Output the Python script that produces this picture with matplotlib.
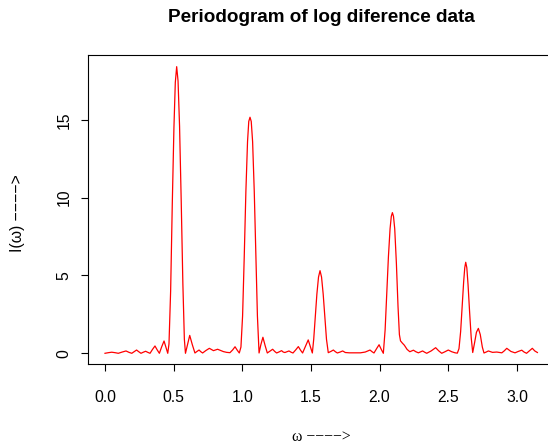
import matplotlib
matplotlib.use("Agg")
import matplotlib.pyplot as plt

omega = [
    0.000, 0.025, 0.049, 0.073, 0.097, 0.125, 0.153, 0.175, 0.195, 0.213,
    0.230, 0.246, 0.262, 0.279, 0.296, 0.312, 0.328, 0.346, 0.364, 0.380,
    0.396, 0.413, 0.430, 0.444, 0.457, 0.466, 0.478, 0.490, 0.502, 0.512,
    0.522, 0.532, 0.543, 0.555, 0.567, 0.578, 0.586, 0.602, 0.617, 0.636,
    0.655, 0.670, 0.685, 0.698, 0.711, 0.735, 0.760, 0.790, 0.820, 0.842,
    0.862, 0.886, 0.910, 0.930, 0.947, 0.963, 0.978, 0.990, 1.002, 1.014,
    1.026, 1.038, 1.047, 1.056, 1.065, 1.075, 1.087, 1.099, 1.110, 1.122,
    1.135, 1.150, 1.166, 1.182, 1.201, 1.221, 1.236, 1.250, 1.268, 1.286,
    1.298, 1.310, 1.325, 1.340, 1.355, 1.369, 1.389, 1.408, 1.424, 1.439,
    1.460, 1.480, 1.496, 1.510, 1.520, 1.531, 1.543, 1.555, 1.566, 1.577,
    1.589, 1.601, 1.613, 1.626, 1.645, 1.663, 1.678, 1.692, 1.712, 1.731,
    1.750, 1.780, 1.820, 1.860, 1.895, 1.930, 1.945, 1.959, 1.978, 1.996,
    2.012, 2.027, 2.040, 2.052, 2.064, 2.076, 2.085, 2.093, 2.101, 2.110,
    2.122, 2.134, 2.144, 2.152, 2.165, 2.180, 2.200, 2.220, 2.246, 2.264,
    2.282, 2.298, 2.313, 2.328, 2.343, 2.375, 2.408, 2.430, 2.452, 2.476,
    2.500, 2.525, 2.550, 2.566, 2.578, 2.590, 2.601, 2.612, 2.620, 2.627,
    2.635, 2.644, 2.655, 2.667, 2.678, 2.692, 2.705, 2.719, 2.733, 2.748,
    2.760, 2.776, 2.792, 2.822, 2.853, 2.890, 2.908, 2.926, 2.956, 2.986,
    3.010, 3.035, 3.052, 3.070, 3.091, 3.112, 3.130, 3.149,
]
intensity = [
    0.00, 0.04, 0.07, 0.04, 0.00, 0.08, 0.15, 0.06, 0.00, 0.11,
    0.21, 0.10, 0.00, 0.07, 0.13, 0.06, 0.00, 0.25, 0.47, 0.22,
    0.00, 0.42, 0.79, 0.38, 0.00, 0.60, 4.0, 9.6, 14.5, 17.4,
    18.42, 17.5, 14.6, 9.8, 4.5, 0.9, 0.00, 0.60, 1.15, 0.55,
    0.02, 0.12, 0.21, 0.10, 0.02, 0.18, 0.32, 0.17, 0.26, 0.18,
    0.11, 0.06, 0.04, 0.22, 0.42, 0.20, 0.02, 0.40, 2.4, 6.2,
    10.4, 13.6, 14.9, 15.17, 14.9, 13.6, 10.4, 6.2, 2.4, 0.02,
    0.55, 1.03, 0.50, 0.02, 0.14, 0.26, 0.12, 0.02, 0.09, 0.17,
    0.08, 0.05, 0.10, 0.15, 0.07, 0.02, 0.22, 0.43, 0.20, 0.02,
    0.45, 0.86, 0.40, 0.02, 0.9, 2.3, 3.8, 4.9, 5.31, 4.9,
    3.8, 2.3, 0.9, 0.04, 0.12, 0.21, 0.10, 0.02, 0.08, 0.15,
    0.05, 0.03, 0.03, 0.03, 0.08, 0.21, 0.10, 0.02, 0.30, 0.55,
    0.25, 0.00, 1.5, 3.8, 6.2, 8.0, 8.8, 9.04, 8.8, 8.0,
    5.8, 3.0, 1.2, 0.80, 0.66, 0.52, 0.25, 0.10, 0.20, 0.10,
    0.03, 0.09, 0.15, 0.07, 0.00, 0.15, 0.36, 0.16, 0.00, 0.10,
    0.21, 0.10, 0.03, 0.01, 0.3, 1.4, 3.0, 4.6, 5.5, 5.85,
    5.5, 4.4, 2.7, 1.0, 0.05, 0.70, 1.35, 1.60, 1.20, 0.40,
    0.02, 0.08, 0.15, 0.06, 0.08, 0.03, 0.16, 0.32, 0.12, 0.03,
    0.12, 0.20, 0.08, 0.00, 0.16, 0.32, 0.15, 0.05,
]
x_ticks = [0.0, 0.5, 1.0, 1.5, 2.0, 2.5, 3.0]
x_ticklabels = ["0.0", "0.5", "1.0", "1.5", "2.0", "2.5", "3.0"]
y_ticks = [0, 5, 10, 15]
y_ticklabels = ["0", "5", "10", "15"]
title = "Periodogram of log diference data"
xlabel = "ω \u2212\u2212\u2212\u2212>"
ylabel = "I(ω) \u2212\u2212\u2212\u2212>"

plt.rcParams['font.family'] = ['Liberation Sans', 'DejaVu Sans']

W, H = 548, 446
fig = plt.figure(figsize=(W / 100, H / 100), dpi=100)
left, right, top, bottom = 88.3, 554.7, 55.3, 364.0
ax = fig.add_axes([left / W, 1 - bottom / H, (right - left) / W, (bottom - top) / H])

ax.plot(omega, intensity, color='#ff0000', lw=0.9)
ax.set_xlim(-0.1216, 3.275)
ax.set_ylim(-0.688, 19.15)

fs = 11.3
ax.set_xticks(x_ticks)
ax.set_xticklabels(x_ticklabels, fontsize=fs)
ax.set_yticks(y_ticks)
ax.set_yticklabels(y_ticklabels, fontsize=fs, rotation=90, va='center')
ax.tick_params(direction='out', length=5, width=0.8, colors='black')
ax.tick_params(axis='x', pad=13.5)
ax.tick_params(axis='y', pad=7)
for s in ax.spines.values():
    s.set_linewidth(0.8)
    s.set_color('black')

fig.text((left + right) / 2 / W, 1 - 18 / H, title, ha='center', va='center',
         fontsize=13.6, fontweight='bold')
fig.text((left + right) / 2 / W, 1 - 437 / H, xlabel, ha='center', va='center',
         fontsize=fs, family=['Liberation Serif', 'DejaVu Serif'])
fig.text(18 / W, 1 - 213 / H, ylabel, ha='center', va='center', rotation=90, fontsize=fs)

fig.savefig("out.png", dpi=100)
